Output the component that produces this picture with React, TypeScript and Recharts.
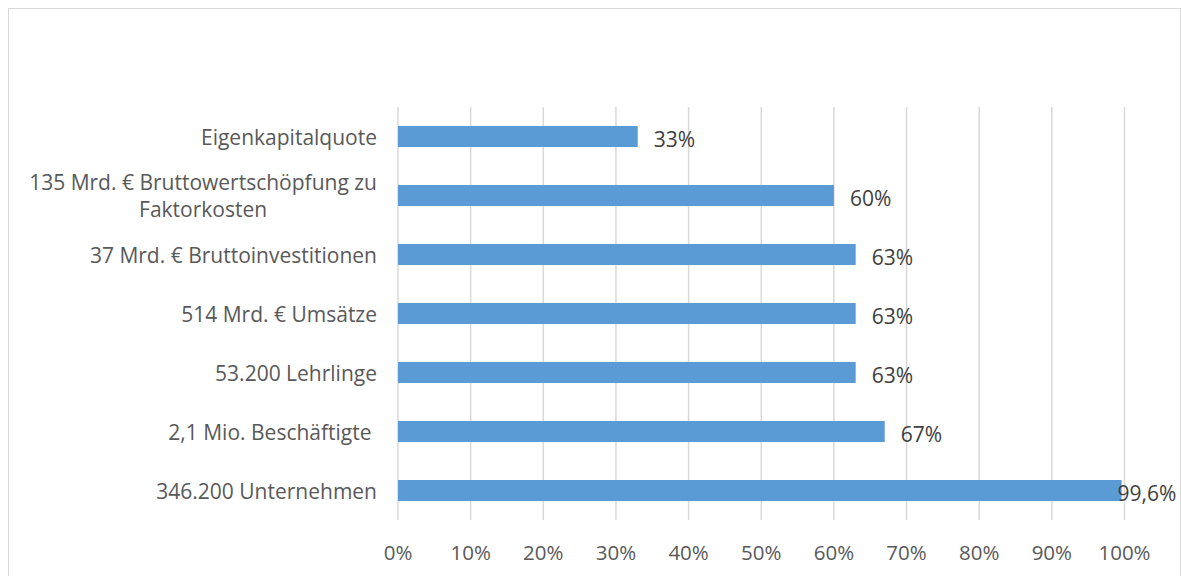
import { Bar, BarChart, CartesianGrid, LabelList, XAxis, YAxis } from "recharts";

const categories = [
  "Eigenkapitalquote",
  "135 Mrd. € Bruttowertschöpfung zu\nFaktorkosten",
  "37 Mrd. € Bruttoinvestitionen",
  "514 Mrd. € Umsätze",
  "53.200 Lehrlinge",
  "2,1 Mio. Beschäftigte ",
  "346.200 Unternehmen",
];

const shares = [0.33, 0.6, 0.63, 0.63, 0.63, 0.67, 0.996];

const xTicks = [0, 0.1, 0.2, 0.3, 0.4, 0.5, 0.6, 0.7, 0.8, 0.9, 1];

const data = categories.map((name, i) => ({ name, share: shares[i] }));

const FONT = "'Open Sans', 'DejaVu Sans', sans-serif";
const CAT_SIZE = 21;

let ctx: CanvasRenderingContext2D | null = null;
function measure(text: string) {
  if (!ctx) ctx = document.createElement("canvas").getContext("2d");
  if (!ctx) return text.length * 10;
  ctx.font = `${CAT_SIZE}px 'Open Sans'`;
  return ctx.measureText(text).width;
}

function pct(v: number) {
  return (v * 100).toLocaleString("de-DE", { maximumFractionDigits: 1 }) + "%";
}

function CategoryTick(props: any) {
  const { x, y, payload } = props;
  const lines: string[] = String(payload.value).split("\n");
  const lineH = 27;
  if (lines.length === 1) {
    return (
      <text
        x={x}
        y={y}
        textAnchor="end"
        dominantBaseline="central"
        fill="#595959"
        fontSize={CAT_SIZE}
        fontFamily={FONT}
        style={{ whiteSpace: "pre" }}
      >
        {lines[0]}
      </text>
    );
  }
  const maxW = Math.max(...lines.map(measure));
  return (
    <g>
      {lines.map((l, i) => (
        <text
          key={i}
          x={x - maxW / 2}
          y={y + (i - (lines.length - 1) / 2) * lineH}
          textAnchor="middle"
          dominantBaseline="central"
          fill="#595959"
          fontSize={CAT_SIZE}
          fontFamily={FONT}
        >
          {l}
        </text>
      ))}
    </g>
  );
}

function ValueLabel(props: any) {
  const { x, y, width, height, value } = props;
  // Excel pulled the last label back onto the bar end
  const lx = value > 0.95 ? x + width - 4 : x + width + 16;
  return (
    <text
      x={lx}
      y={y + height / 2 + 2}
      dominantBaseline="central"
      fill="#404040"
      fontSize={21}
      fontFamily={FONT}
    >
      {pct(value)}
    </text>
  );
}

export default function App() {
  return (
    <div
      style={{
        position: "fixed",
        left: 8,
        top: 8,
        width: 1173,
        height: 568,
        border: "1px solid #d9d9d9",
        borderBottom: "none",
        boxSizing: "border-box",
        background: "#fff",
        overflow: "hidden",
      }}
    >
      <BarChart
        width={1171}
        height={565}
        data={data}
        layout="vertical"
        margin={{ top: 98, right: 55.5, bottom: 24, left: 0 }}
      >
        <CartesianGrid horizontal={false} stroke="#d9d9d9" strokeWidth={1.5} />
        <XAxis
          type="number"
          domain={[0, 1]}
          ticks={xTicks}
          tickFormatter={(v: number) => Math.round(v * 100) + "%"}
          axisLine={false}
          tickLine={false}
          tickMargin={19}
          height={30}
          interval={0}
          tick={{ fill: "#595959", fontSize: 20.5, fontFamily: FONT }}
        />
        <YAxis
          type="category"
          dataKey="name"
          width={389}
          axisLine={false}
          tickLine={false}
          tickMargin={15}
          interval={0}
          tick={<CategoryTick />}
        />
        <Bar dataKey="share" fill="#5B9BD5" barSize={21} isAnimationActive={false}>
          <LabelList dataKey="share" content={<ValueLabel />} />
        </Bar>
      </BarChart>
    </div>
  );
}
